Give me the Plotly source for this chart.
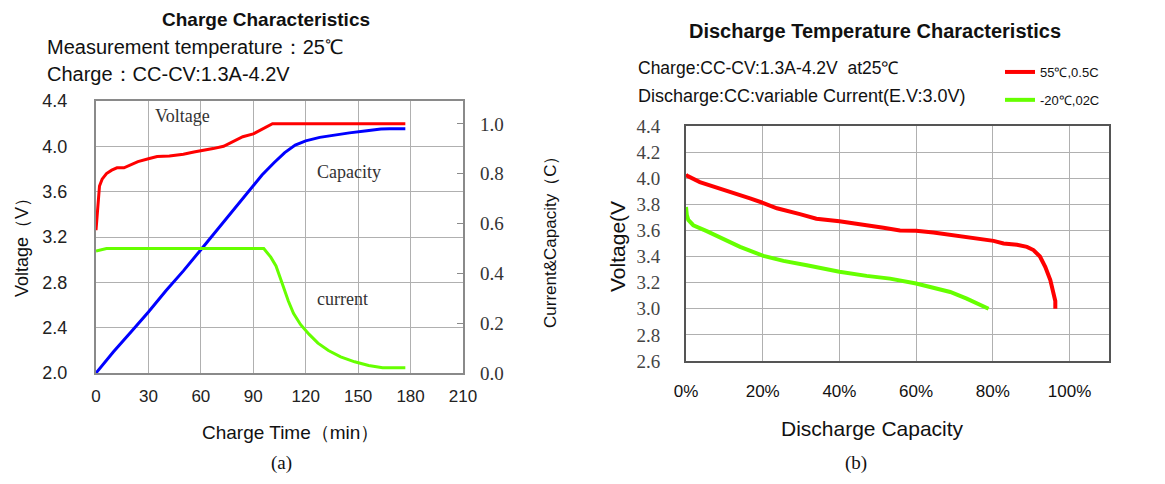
import plotly.graph_objects as go

W, H = 1165, 484
PAD = 8  # default page body margin around the figure
FW, FH = W - 2 * PAD, H - 2 * PAD

# ---------------- data: (a) charge characteristics ----------------
charge_time_v = [0, 1, 2, 3.5, 6, 9, 12, 16, 20, 24, 30, 35, 42, 50, 56, 60, 67, 73, 78, 84, 90, 96, 101, 110, 130, 150, 177]
charge_voltage = [3.26, 3.5, 3.65, 3.71, 3.76, 3.79, 3.81, 3.81, 3.84, 3.865, 3.89, 3.91, 3.915, 3.93, 3.95, 3.96, 3.98,
                  4.0, 4.04, 4.085, 4.11, 4.16, 4.2, 4.2, 4.2, 4.2, 4.2]
charge_time_c = [0, 10, 20, 30, 40, 50, 60, 70, 80, 88, 95, 102, 108, 114, 120, 128, 136, 145, 155, 163, 168, 177]
charge_capacity = [0, 0.085, 0.165, 0.245, 0.33, 0.41, 0.495, 0.58, 0.665, 0.735, 0.795, 0.845, 0.885, 0.915, 0.932,
                   0.946, 0.955, 0.964, 0.973, 0.98, 0.981, 0.981]
charge_time_i = [0, 6, 20, 60, 96, 100, 103, 106, 110, 113, 117, 122, 127, 133, 140, 148, 156, 164, 177]
charge_current = [0.49, 0.5, 0.5, 0.5, 0.5, 0.465, 0.43, 0.37, 0.29, 0.24, 0.195, 0.155, 0.12, 0.09, 0.065, 0.045,
                  0.03, 0.021, 0.021]
time_ticks = [0, 30, 60, 90, 120, 150, 180, 210]
volt_ticks_a = [2.0, 2.4, 2.8, 3.2, 3.6, 4.0, 4.4]
cc_ticks = [0.0, 0.2, 0.4, 0.6, 0.8, 1.0]

# ---------------- data: (b) discharge temperature characteristics ----------------
cap_55 = [0, 0.2, 3.6, 8, 12.3, 16.7, 20.2, 23.7, 29.7, 34, 40, 47, 51.5, 55.8, 60, 64.5, 68.9, 73.2, 77.6, 80.2,
          82.8, 86.3, 88.9, 90.6, 92.3, 93.7, 95, 95.8, 96.3, 96.3]
volt_55 = [4.03, 4.02, 3.97, 3.93, 3.89, 3.845, 3.81, 3.77, 3.725, 3.69, 3.67, 3.635, 3.62, 3.60, 3.597, 3.584,
           3.564, 3.55, 3.528, 3.52, 3.50, 3.49, 3.474, 3.45, 3.40, 3.32, 3.22, 3.12, 3.06, 3.0]
cap_m20 = [0, 0.2, 0.6, 1.9, 5.4, 9.7, 14.1, 20.2, 25.4, 31.5, 40, 47.1, 53.2, 60, 64.5, 68.9, 73.2, 76.7, 78.9]
volt_m20 = [3.78, 3.72, 3.68, 3.64, 3.595, 3.538, 3.474, 3.405, 3.367, 3.334, 3.283, 3.252, 3.231, 3.193, 3.163,
            3.129, 3.078, 3.035, 3.0]
cap_ticks = [0, 20, 40, 60, 80, 100]
cap_tick_labels = ["0%", "20%", "40%", "60%", "80%", "100%"]
volt_ticks_b = [2.6, 2.8, 3.0, 3.2, 3.4, 3.6, 3.8, 4.0, 4.2, 4.4]

SANS = "Liberation Sans, Arial, sans-serif"
SERIF = "Liberation Serif, DejaVu Serif, serif"


def px_x(p):
    return (p - PAD) / FW


def px_y(p):
    return 1 - (p - PAD) / FH


fig = go.Figure()

# (a) traces
fig.add_trace(go.Scatter(x=charge_time_v, y=charge_voltage, mode="lines", line=dict(color="#ff0000", width=3),
                         xaxis="x", yaxis="y", showlegend=False, name="Voltage"))
fig.add_trace(go.Scatter(x=charge_time_c, y=charge_capacity, mode="lines", line=dict(color="#0000ff", width=3),
                         xaxis="x", yaxis="y2", showlegend=False, name="Capacity"))
fig.add_trace(go.Scatter(x=charge_time_i, y=charge_current, mode="lines", line=dict(color="#66ff00", width=3),
                         xaxis="x", yaxis="y2", showlegend=False, name="current"))

# (b) traces
fig.add_trace(go.Scatter(x=cap_55, y=volt_55, mode="lines", line=dict(color="#ff0000", width=4),
                         xaxis="x3", yaxis="y3", name="55℃,0.5C", legendgroup="a"))
fig.add_trace(go.Scatter(x=cap_m20, y=volt_m20, mode="lines", line=dict(color="#66ff00", width=4),
                         xaxis="x3", yaxis="y3", name="-20℃,02C", legendgroup="b"))

grid = "#b0b0b0"
frame_a = "#8a8a8a"
frame_b = "#555555"

fig.update_layout(
    width=FW, height=FH,
    margin=dict(l=0, r=0, t=0, b=0, autoexpand=False),
    paper_bgcolor="white", plot_bgcolor="white",
    showlegend=True,
    legend=dict(x=px_x(1000), y=px_y(57), xanchor="left", yanchor="top",
                font=dict(family=SANS, size=13, color="#111"), tracegroupgap=8,
                bgcolor="rgba(0,0,0,0)", itemwidth=30),
    xaxis=dict(domain=[px_x(96), px_x(463)], anchor="y", range=[0, 210], tickvals=time_ticks,
               showgrid=True, gridcolor=grid, gridwidth=1, showline=True, linecolor=frame_a, linewidth=2,
               mirror=True, ticks="", zeroline=False, tickfont=dict(family=SANS, size=17, color="#222"),
               ticklabelstandoff=7, automargin=False),
    yaxis=dict(domain=[px_y(373), px_y(101)], anchor="x", range=[2.0, 4.4], tickvals=volt_ticks_a,
               tickformat=".1f", showgrid=True, gridcolor=grid, gridwidth=1, showline=True, linecolor=frame_a,
               linewidth=2, mirror=True, ticks="", zeroline=False,
               tickfont=dict(family=SANS, size=18, color="#222"), ticklabelstandoff=23, automargin=False),
    yaxis2=dict(overlaying="y", side="right", anchor="x", range=[0, 1.092], tickvals=cc_ticks, tickformat=".1f",
                showgrid=False, zeroline=False, ticks="inside", ticklen=6, tickcolor=frame_a, showline=False,
                tickfont=dict(family=SERIF, size=19, color="#333"), ticklabelstandoff=16, automargin=False),
    xaxis3=dict(domain=[px_x(686), px_x(1109)], anchor="y3", range=[0, 110.3], tickvals=cap_ticks,
                ticktext=cap_tick_labels, showgrid=True, gridcolor=grid, gridwidth=1, showline=True,
                linecolor=frame_b, linewidth=2, mirror=True, ticks="", zeroline=False,
                tickfont=dict(family=SANS, size=17, color="#111"), ticklabelstandoff=14, automargin=False),
    yaxis3=dict(domain=[px_y(361), px_y(126)], anchor="x3", range=[2.6, 4.4], tickvals=volt_ticks_b,
                tickformat=".1f", showgrid=True, gridcolor=grid, gridwidth=1, showline=True, linecolor=frame_b,
                linewidth=2, mirror=True, ticks="", zeroline=False,
                tickfont=dict(family=SERIF, size=19, color="#444"), ticklabelstandoff=20, automargin=False),
)

ann = []


def add_text(text, x, y, size, family=SANS, bold=False, angle=0, xanchor="center", color="#111"):
    if bold:
        text = "<b>" + text + "</b>"
    ann.append(dict(text=text, x=px_x(x), y=px_y(y), xref="paper", yref="paper", showarrow=False,
                    xanchor=xanchor, yanchor="middle", textangle=angle,
                    font=dict(family=family, size=size, color=color)))


# (a) texts
add_text("Charge Characteristics", 266, 19, 19, bold=True)
add_text("Measurement temperature：25℃", 45, 47, 20, xanchor="left")
add_text("Charge：CC-CV:1.3A-4.2V", 45, 74, 20, xanchor="left")
add_text("Voltage", 153, 116, 18, family=SERIF, xanchor="left", color="#333")
add_text("Capacity", 315, 172, 18, family=SERIF, xanchor="left", color="#333")
add_text("current", 315, 299, 18, family=SERIF, xanchor="left", color="#333")
add_text("Voltage（V）", 22, 243, 18, angle=-90)
add_text("Current&Capacity（C）", 550, 238, 17, angle=-90)
add_text("Charge Time（min）", 290, 432, 19)
add_text("(a)", 281, 463, 19, family=SERIF)

# (b) texts
add_text("Discharge Temperature Characteristics", 875, 31, 20, bold=True)
add_text("Charge:CC-CV:1.3A-4.2V  at25℃", 636, 68, 17.5, xanchor="left")
add_text("Discharge:CC:variable Current(E.V:3.0V)", 636, 96, 18, xanchor="left")
add_text("Voltage(V", 618, 247, 21, angle=-90)
add_text("Discharge Capacity", 872, 428, 21)
add_text("(b)", 856, 463, 19, family=SERIF)

fig.update_layout(annotations=ann)

fig.write_html("out.html")
